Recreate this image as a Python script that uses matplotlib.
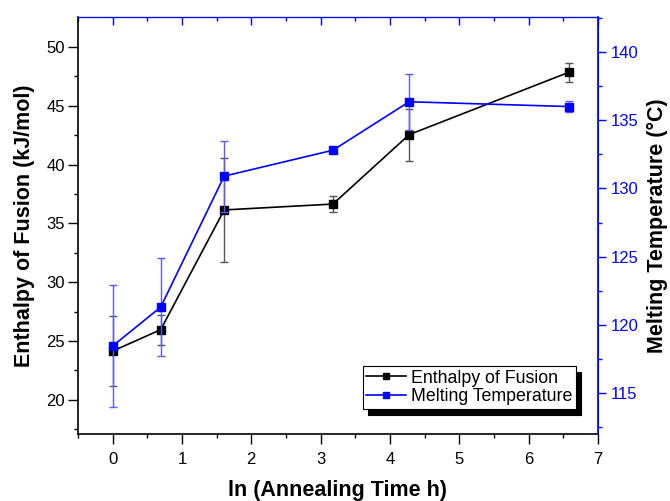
import matplotlib.pyplot as plt
from matplotlib.lines import Line2D

plt.rcParams['font.family'] = ['Liberation Sans', 'DejaVu Sans']

# ln of annealing time (1, 2, 5, 24, 72, 720 h)
ln_time = [0.0, 0.693, 1.609, 3.178, 4.277, 6.579]

enthalpy = [24.15, 25.97, 36.15, 36.65, 42.55, 47.85]
enthalpy_err = [2.98, 1.26, 4.40, 0.68, 2.20, 0.80]

melt_temp = [118.45, 121.3, 130.9, 132.8, 136.35, 136.0]
melt_temp_err = [4.5, 3.6, 2.6, 0.2, 2.05, 0.4]

fig = plt.figure(figsize=(6.7, 5.01), dpi=100)
ax = fig.add_axes([0.1164, 0.1337, 0.776, 0.8323])
ax2 = ax.twinx()

# enthalpy on the left axis
ax.errorbar(ln_time, enthalpy, yerr=enthalpy_err, color='black', marker='s', markersize=6,
            linewidth=1.2, ecolor='#555555', elinewidth=1, capsize=3, capthick=1, zorder=3)

# melting temperature on the right axis
ax2.errorbar(ln_time, melt_temp, yerr=melt_temp_err, color='#0000ff', marker='s', markersize=6,
             linewidth=1.2, ecolor='#5a5aff', elinewidth=1, capsize=3, capthick=1, zorder=3)

ax.set_xlim(-0.29, 7.0)
ax.set_ylim(17.1, 52.55)
ax2.set_ylim(112.0, 142.56)

ax.set_xticks(range(0, 8))
ax.set_xticks([i + 0.5 for i in range(-1, 7)], minor=True)
ax.set_yticks(range(20, 51, 5))
ax.set_yticks([17.5 + 5 * i for i in range(7)], minor=True)
ax2.set_yticks(range(115, 141, 5))
ax2.set_yticks([112.5 + 5 * i for i in range(7)], minor=True)

ax.tick_params(axis='both', which='major', labelsize=12, length=7, width=1, direction='out', pad=2.5)
ax.tick_params(axis='both', which='minor', length=3, width=1, direction='out')
ax.tick_params(axis='x', which='major', pad=6)
ax.tick_params(axis='x', which='both', top=False)
ax2.tick_params(axis='y', which='major', labelsize=12, length=6, width=1, colors='#0000ff')
ax2.tick_params(axis='y', which='minor', length=3, width=1, colors='#0000ff')

# blue top axis with inward ticks, as in the original
top = ax.secondary_xaxis('top')
top.set_xticks(range(0, 8))
top.set_xticks([i + 0.5 for i in range(-1, 7)], minor=True)
top.tick_params(axis='x', which='major', direction='in', length=6, width=1, colors='#0000ff', labeltop=False)
top.tick_params(axis='x', which='minor', direction='in', length=3, width=1, colors='#0000ff')
top.spines['top'].set_color('#0000ff')

for s in ['left', 'bottom']:
    ax.spines[s].set_linewidth(1.2)
ax2.spines['right'].set_color('#0000ff')
ax2.spines['right'].set_linewidth(1.2)
ax2.spines['top'].set_color('#0000ff')
ax2.spines['left'].set_visible(False)
ax2.spines['bottom'].set_visible(False)
ax.spines['top'].set_color('#0000ff')
ax.spines['right'].set_color('#0000ff')

ax.set_xlabel('ln (Annealing Time h)', fontsize=15.5, fontweight='bold', labelpad=9)
ax.set_ylabel('Enthalpy of Fusion (kJ/mol)', fontsize=15.5, fontweight='bold', labelpad=8)
ax2.set_ylabel('Melting Temperature (°C)', fontsize=15.5, fontweight='bold', labelpad=6)

handles = [
    Line2D([], [], color='black', marker='s', markersize=5, linewidth=1.2),
    Line2D([], [], color='#0000ff', marker='s', markersize=5, linewidth=1.2),
]
leg = ax2.legend(handles, ['Enthalpy of Fusion', 'Melting Temperature'], loc='lower left',
                 bbox_to_anchor=(0.548, 0.06), fontsize=12.8, frameon=True, fancybox=False,
                 edgecolor='black', framealpha=1, borderpad=0.2, labelspacing=0.1,
                 handlelength=2.2, handletextpad=0.3, borderaxespad=0,
                 shadow={'color': 'black', 'alpha': 1, 'ox': 4, 'oy': -4})
leg.get_frame().set_linewidth(0.8)

fig.savefig('out.png', dpi=100)
